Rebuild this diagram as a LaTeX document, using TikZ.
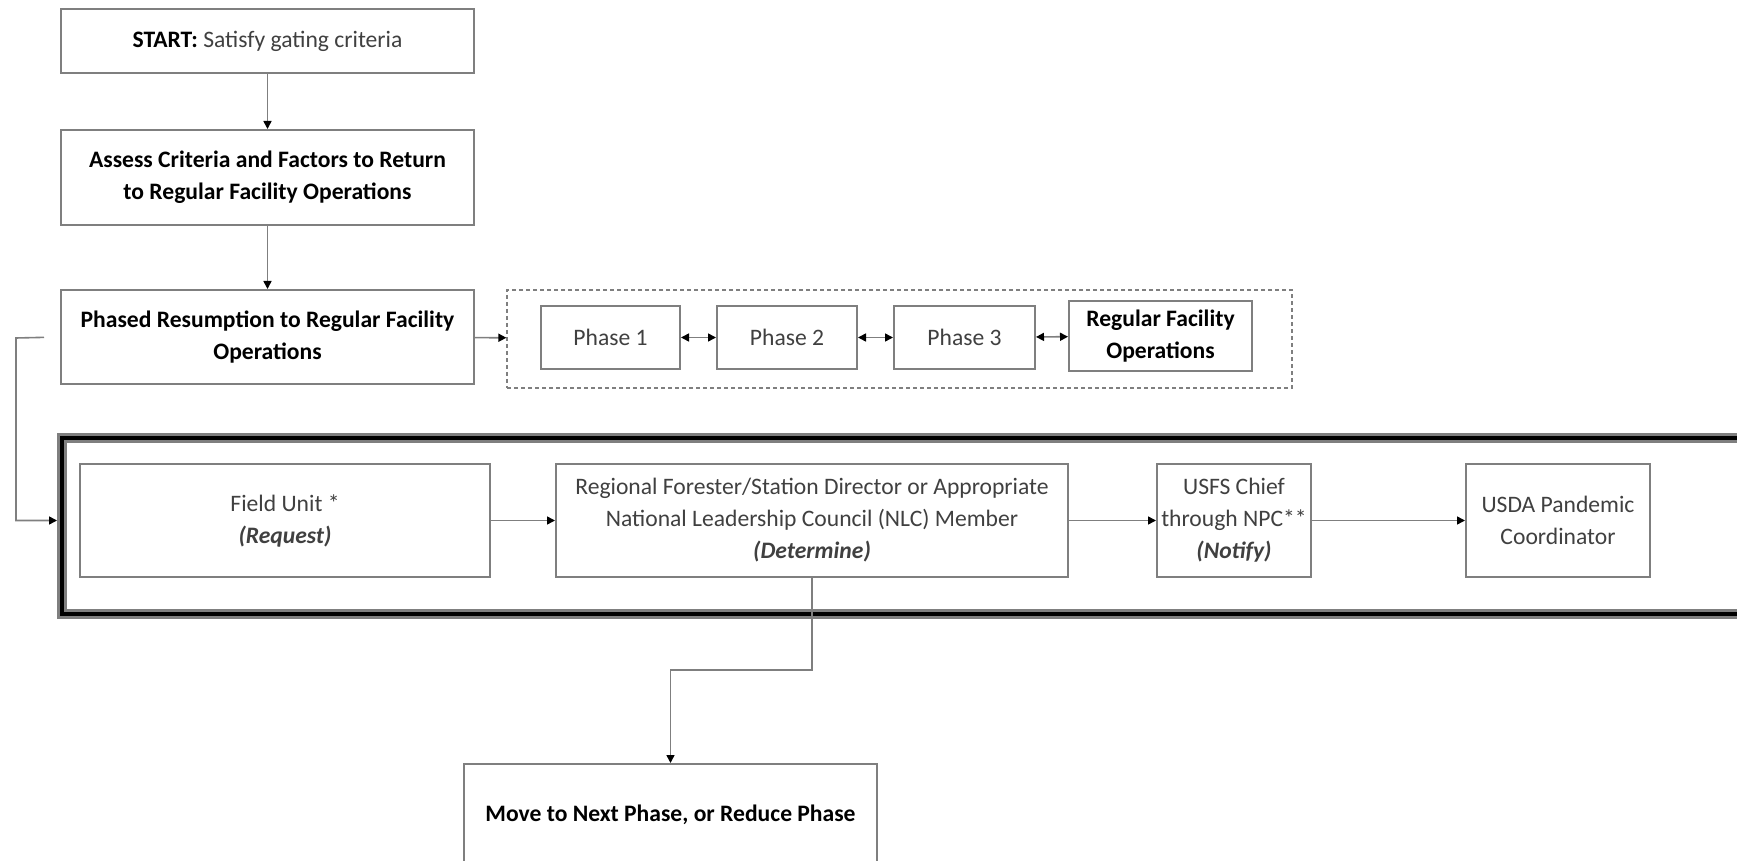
\documentclass[tikz,border=0pt]{standalone}
\usepackage{fontspec}
\setmainfont{Carlito}
\usetikzlibrary{arrows.meta}
\definecolor{boxgray}{HTML}{7F7F7F}
\definecolor{txtgray}{HTML}{404040}
\begin{document}
\begin{tikzpicture}[x=0.5pt,y=-0.5pt,
  box/.style={draw=boxgray, line width=1pt, fill=white, inner sep=0pt, align=center,
    text=txtgray, font=\fontsize{11.8}{16}\selectfont},
  bbox/.style={box, text=black, font=\fontsize{11.8}{16}\selectfont\bfseries},
  tip/.tip={Triangle[length=4pt,width=4pt,color=black]},
  conn/.style={draw=boxgray, line width=0.8pt, -tip},
  dconn/.style={draw=boxgray, line width=0.8pt, tip-tip}]
\useasboundingbox (0,0) rectangle (1737,861);
% thick outer frame
\node[draw=boxgray, line width=5pt, minimum width=849pt, minimum height=88pt, inner sep=0pt] (big) at (911,526) {};
\node[draw=black, line width=2pt, minimum width=849pt, minimum height=88pt, inner sep=0pt] at (911,526) {};
% top chain
\node[box, minimum width=206.5pt, minimum height=32pt] (start) at (267.5,41)
  {\textcolor{black}{\textbf{START:}} Satisfy gating criteria};
\node[bbox, minimum width=206.5pt, minimum height=47.5pt] (assess) at (267.5,177.5)
  {Assess Criteria and Factors to Return\\to Regular Facility Operations};
\node[bbox, minimum width=206.5pt, minimum height=47pt] (phased) at (267.5,337)
  {Phased Resumption to Regular Facility\\Operations};
% dashed group
\node[draw=boxgray, dashed, dash pattern=on 2pt off 1.5pt, line width=0.6pt, minimum width=392.5pt, minimum height=49pt, inner sep=0pt] (dashbox) at (899.5,339) {};
\node[box, minimum width=69.5pt, minimum height=31.5pt] (p1) at (610.5,337.5) {Phase 1};
\node[box, minimum width=70pt, minimum height=31.5pt] (p2) at (787,337.5) {Phase 2};
\node[box, minimum width=70.5pt, minimum height=31.5pt] (p3) at (964.5,337.5) {Phase 3};
\node[bbox, minimum width=91.5pt, minimum height=35pt] (reg) at (1160.5,336)
  {Regular Facility\\Operations};
% lower row
\node[box, minimum width=205pt, minimum height=56.5pt] (field) at (285,520.5)
  {Field Unit *\\\textbf{\textit{(Request)}}};
\node[box, minimum width=256pt, minimum height=56.5pt] (regional) at (812,520.5)
  {Regional Forester/Station Director or Appropriate\\National Leadership Council (NLC) Member\\\textbf{\textit{(Determine)}}};
\node[box, minimum width=77pt, minimum height=56.5pt] (usfs) at (1234,520.5)
  {USFS Chief\\through NPC**\\\textbf{\textit{(Notify)}}};
\node[box, minimum width=92pt, minimum height=56.5pt] (usda) at (1558,520.5)
  {USDA Pandemic\\Coordinator};
\node[bbox, minimum width=206.5pt, minimum height=51pt] (move) at (670.5,815)
  {Move to Next Phase, or Reduce Phase};
% connectors
\draw[conn] (start) -- (assess);
\draw[conn] (assess) -- (phased);
\draw[conn] (phased) -- (dashbox);
\draw[dconn] (p1) -- (p2);
\draw[dconn] (p2) -- (p3);
\draw[dconn] (p3) -- (reg);
\coordinate (lp) at (16,338);
\draw[conn, shorten <=8pt] (phased.west) -- (lp) |- (big.west |- field.west);
\draw[conn] (field) -- (regional);
\draw[conn] (regional) -- (usfs);
\draw[conn] (usfs) -- (usda);
\coordinate (mid) at (0,670);
\draw[conn] (regional.south) -- (regional.south |- mid) -| (move.north);
\end{tikzpicture}
\end{document}
